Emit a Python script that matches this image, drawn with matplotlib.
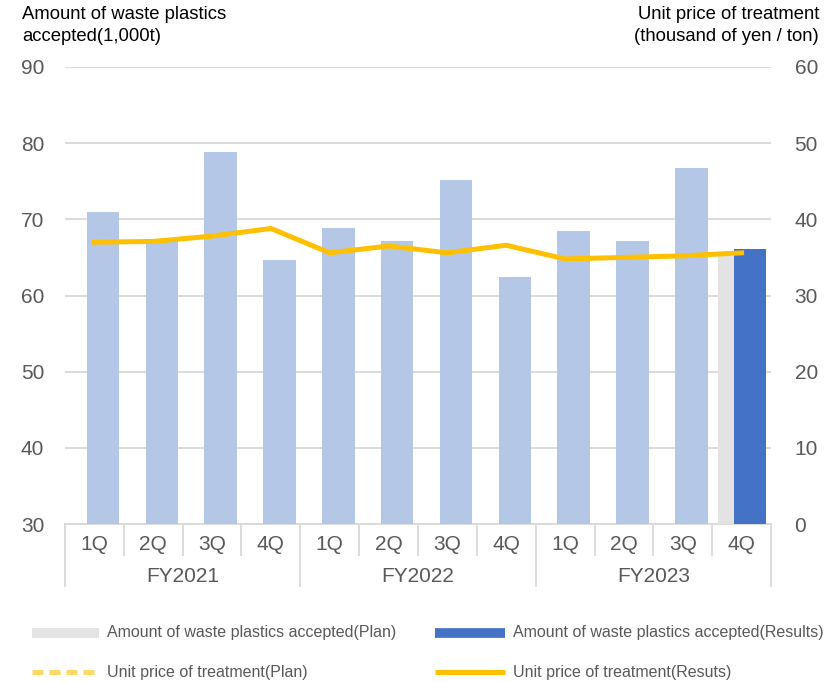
import matplotlib
matplotlib.use("Agg")
import matplotlib.pyplot as plt
from matplotlib.lines import Line2D
import numpy as np

plt.rcParams['font.family'] = ['Liberation Sans', 'DejaVu Sans']

# ---- data ----
fiscal_years = ["FY2021", "FY2022", "FY2023"]
quarters = ["1Q", "2Q", "3Q", "4Q"]
amount_results = [71.0, 67.4, 78.9, 64.6, 68.8, 67.1, 75.2, 62.4, 68.5, 67.1, 76.7, 66.1]
amount_plan_q = 11          # index of the quarter that has a plan bar
amount_plan = 65.2
price_results = [37.0, 37.1, 37.8, 38.8, 35.6, 36.5, 35.6, 36.6, 34.8, 35.0, 35.2, 35.6]
left_ticks = [30, 40, 50, 60, 70, 80, 90]
right_ticks = [0, 10, 20, 30, 40, 50, 60]

legend_labels = ["Amount of waste plastics accepted(Plan)",
                 "Amount of waste plastics accepted(Results)",
                 "Unit price of treatment(Plan)",
                 "Unit price of treatment(Resuts)"]

c_past = "#B4C7E7"
c_res = "#4472C4"
c_plan = "#E3E3E3"
c_line = "#FFC000"
c_line_plan = "#FFD966"
c_text = "#595959"
c_grid = "#D9D9D9"

W, H = 839, 682
fig = plt.figure(figsize=(W / 100, H / 100), dpi=100)
x0, x1, y0, y1 = 65, 771, 524, 67
ax = fig.add_axes([x0 / W, 1 - y0 / H, (x1 - x0) / W, (y0 - y1) / H])
ax2 = ax.twinx()

n = len(amount_results)
x = np.arange(n)
bw = 0.55
off = 0.146
colors = [c_past] * n
colors[-1] = c_res
ax.bar(x[amount_plan_q] - 0.12, amount_plan - 30, bottom=30, width=bw, color=c_plan, zorder=2)
ax.bar(x + off, np.array(amount_results) - 30, bottom=30, width=bw, color=colors, zorder=3)

ax.set_xlim(-0.5, n - 0.5)
ax.set_ylim(30, 90)
ax.set_yticks(left_ticks)
ax.yaxis.grid(True, color=c_grid, lw=1.3)
ax.set_axisbelow(True)
ax.tick_params(axis='y', length=0, labelsize=15, labelcolor=c_text, pad=15)
ax.set_xticks([])
for s in ax.spines.values():
    s.set_visible(False)

ax2.plot(x, price_results, color=c_line, lw=3.6, solid_joinstyle='round', zorder=5)
ax2.set_ylim(0, 60)
ax2.set_yticks(right_ticks)
ax2.tick_params(axis='y', length=0, labelsize=15, labelcolor=c_text, pad=17)
for s in ax2.spines.values():
    s.set_visible(False)

# category axis (two-level)
tr = ax.get_xaxis_transform()
ax.axhline(30, color=c_grid, lw=1.3, zorder=1, clip_on=False)
ax_h = (y0 - y1)
def ay(py):
    return -(py - y0) / ax_h
for i in range(n + 1):
    xb = i - 0.5
    if i % 4 == 0:
        ax.plot([xb, xb], [0, ay(586)], transform=tr, color=c_grid, lw=1.3, clip_on=False)
    else:
        ax.plot([xb, xb], [0, ay(555)], transform=tr, color=c_grid, lw=1.3, clip_on=False)
for i in range(n):
    ax.text(i, ay(545), quarters[i % 4], transform=tr, ha='center', va='center',
            fontsize=15, color=c_text)
for j, fy in enumerate(fiscal_years):
    ax.text(4 * j + 1.5, ay(576), fy, transform=tr, ha='center', va='center',
            fontsize=15, color=c_text)

# axis titles
fig.text(22 / W, 1 - 6 / H, "Amount of waste plastics\naccepted(1,000t)", ha='left', va='top',
         fontsize=13.3, color='black', linespacing=1.38)
fig.text(819 / W, 1 - 6 / H, "Unit price of treatment\n(thousand of yen / ton)", ha='right', va='top',
         fontsize=13.3, color='black', linespacing=1.38)

# legend
def fy(py):
    return 1 - py / H
def fx(px):
    return px / W
fig.add_artist(Line2D([fx(32), fx(99)], [fy(633), fy(633)], color=c_plan, lw=7, solid_capstyle='butt'))
fig.add_artist(Line2D([fx(435), fx(505)], [fy(633), fy(633)], color=c_res, lw=7, solid_capstyle='butt'))
fig.add_artist(Line2D([fx(32), fx(99)], [fy(672), fy(672)], color=c_line_plan, lw=3.6,
                      linestyle=(0, (2.2, 1.2)), solid_capstyle='butt'))
fig.add_artist(Line2D([fx(435), fx(505)], [fy(672), fy(672)], color=c_line, lw=3.6, solid_capstyle='butt'))
fig.text(fx(107), fy(633), legend_labels[0], ha='left', va='center', fontsize=11.5, color=c_text)
fig.text(fx(513), fy(633), legend_labels[1], ha='left', va='center', fontsize=11.5, color=c_text)
fig.text(fx(107), fy(672), legend_labels[2], ha='left', va='center', fontsize=11.5, color=c_text)
fig.text(fx(513), fy(672), legend_labels[3], ha='left', va='center', fontsize=11.5, color=c_text)

fig.savefig("out.png", dpi=100)
